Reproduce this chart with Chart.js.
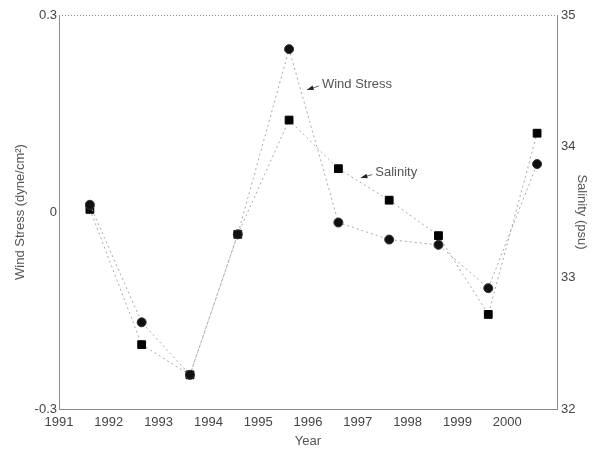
<!DOCTYPE html>
<html>
<head>
<meta charset="utf-8">
<script src="https://cdn.jsdelivr.net/npm/chart.js"></script>
<style>
  html, body { margin: 0; padding: 0; background: #fff; }
  #wrap { width: 595px; height: 450px; }
</style>
</head>
<body>
<div id="wrap"><canvas id="stressChart" width="595" height="450"></canvas></div>
<script>
// sample years (points sit a little past each year mark)
const years = [1991.62, 1992.66, 1993.63, 1994.59, 1995.62, 1996.61, 1997.63, 1998.62, 1999.62, 2000.60];
// wind stress, dyne/cm^2 (circles)
const windStress = [0.011, -0.168, -0.248, -0.034, 0.248, -0.016, -0.042, -0.050, -0.116, 0.073];
// salinity, psu (squares)
const salinity = [33.52, 32.49, 32.26, 33.33, 34.20, 33.83, 33.59, 33.32, 32.72, 34.10];

const yearTicks = [1991, 1992, 1993, 1994, 1995, 1996, 1997, 1998, 1999, 2000];

// callout labels: text position and arrow tip, in data units
const callouts = [
    { text: 'Wind Stress', axis: 'yWind', x: 1996.28, y: 0.195, tipX: 1995.98, tipY: 0.186 },
    { text: 'Salinity', axis: 'ySal', x: 1997.35, y: 33.80, tipX: 1997.06, tipY: 33.76 }
];

const textColor = '#555';
const lineColor = '#a8a8a8';
const axisColor = '#8a8a8a';

// top frame line + the two callouts
const extras = {
    id: 'extras',
    afterDraw(chart) {
        const ctx = chart.ctx;
        const area = chart.chartArea;
        ctx.save();
        ctx.strokeStyle = axisColor;
        ctx.lineWidth = 1;
        ctx.setLineDash([1, 2]);
        ctx.beginPath();
        ctx.moveTo(area.left, area.top + 0.5);
        ctx.lineTo(area.right, area.top + 0.5);
        ctx.stroke();
        ctx.setLineDash([]);

        const xs = chart.scales.x;
        callouts.forEach(function (c) {
            const ys = chart.scales[c.axis];
            const tx = xs.getPixelForValue(c.x);
            const ty = ys.getPixelForValue(c.y);
            const ax = xs.getPixelForValue(c.tipX);
            const ay = ys.getPixelForValue(c.tipY);
            ctx.strokeStyle = '#666';
            ctx.beginPath();
            ctx.moveTo(tx - 3, ty + 2);
            ctx.lineTo(ax, ay);
            ctx.stroke();
            const ang = Math.atan2(ay - (ty + 2), ax - (tx - 3));
            ctx.fillStyle = '#222';
            ctx.beginPath();
            ctx.moveTo(ax, ay);
            ctx.lineTo(ax - 7 * Math.cos(ang - 0.35), ay - 7 * Math.sin(ang - 0.35));
            ctx.lineTo(ax - 7 * Math.cos(ang + 0.35), ay - 7 * Math.sin(ang + 0.35));
            ctx.closePath();
            ctx.fill();
            ctx.fillStyle = textColor;
            ctx.font = '13px "Liberation Sans", Arial, sans-serif';
            ctx.textBaseline = 'middle';
            ctx.textAlign = 'left';
            ctx.fillText(c.text, tx, ty);
        });
        ctx.restore();
    }
};

const windPoints = years.map((x, i) => ({ x: x, y: windStress[i] }));
const salPoints = years.map((x, i) => ({ x: x, y: salinity[i] }));

const tickFont = { family: '"Liberation Sans", Arial, sans-serif', size: 13 };

new Chart(document.getElementById('stressChart').getContext('2d'), {
    type: 'scatter',
    data: {
        datasets: [{
            label: 'Wind Stress',
            data: windPoints,
            yAxisID: 'yWind',
            showLine: true,
            borderColor: lineColor,
            borderWidth: 1,
            borderDash: [2, 3],
            pointStyle: 'circle',
            pointRadius: 4.5,
            pointBackgroundColor: '#111',
            pointBorderColor: '#333',
            pointBorderWidth: 1
        }, {
            label: 'Salinity',
            data: salPoints,
            yAxisID: 'ySal',
            showLine: true,
            borderColor: lineColor,
            borderWidth: 1,
            borderDash: [2, 3],
            pointStyle: 'rect',
            pointRadius: 5.5,
            pointBackgroundColor: '#000',
            pointBorderColor: '#000',
            pointBorderWidth: 1
        }]
    },
    options: {
        responsive: false,
        animation: false,
        layout: { padding: { top: 15, left: 0, right: 0, bottom: 0 } },
        plugins: {
            legend: { display: false },
            tooltip: { enabled: false }
        },
        scales: {
            x: {
                type: 'linear',
                position: 'bottom',
                min: 1991,
                max: 2001,
                afterBuildTicks(scale) {
                    scale.ticks = yearTicks.map(v => ({ value: v }));
                },
                afterFit(scale) { scale.height = 41; },
                grid: { drawOnChartArea: false, drawTicks: false },
                border: { color: axisColor, dash: [1, 2] },
                ticks: {
                    color: '#444',
                    font: tickFont,
                    padding: 6,
                    maxRotation: 0,
                    callback: v => String(v)
                },
                title: {
                    display: true,
                    text: 'Year',
                    color: textColor,
                    font: { family: '"Liberation Sans", Arial, sans-serif', size: 13 },
                    padding: { top: 0, bottom: 1 }
                }
            },
            yWind: {
                type: 'linear',
                position: 'left',
                min: -0.3,
                max: 0.3,
                afterBuildTicks(scale) {
                    scale.ticks = [-0.3, 0, 0.3].map(v => ({ value: v }));
                },
                afterFit(scale) { scale.width = 59; },
                grid: { drawOnChartArea: false, drawTicks: false },
                border: { color: axisColor, dash: [1, 2] },
                ticks: {
                    color: '#444',
                    font: tickFont,
                    padding: 2,
                    callback: v => (v === 0 ? '0' : v.toFixed(1))
                },
                title: {
                    display: true,
                    text: 'Wind Stress (dyne/cm²)',
                    color: textColor,
                    font: { family: '"Liberation Sans", Arial, sans-serif', size: 13 },
                    padding: { top: 13, bottom: 0 }
                }
            },
            ySal: {
                type: 'linear',
                position: 'right',
                min: 32,
                max: 35,
                afterBuildTicks(scale) {
                    scale.ticks = [32, 33, 34, 35].map(v => ({ value: v }));
                },
                afterFit(scale) { scale.width = 38; },
                grid: { drawOnChartArea: false, drawTicks: false },
                border: { color: axisColor, dash: [1, 2] },
                ticks: {
                    color: '#444',
                    font: tickFont,
                    padding: 4,
                    callback: v => String(v)
                },
                title: {
                    display: true,
                    text: 'Salinity (psu)',
                    color: textColor,
                    font: { family: '"Liberation Sans", Arial, sans-serif', size: 13 },
                    padding: { top: 6, bottom: 0 }
                }
            }
        }
    },
    plugins: [extras]
});
</script>
</body>
</html>
